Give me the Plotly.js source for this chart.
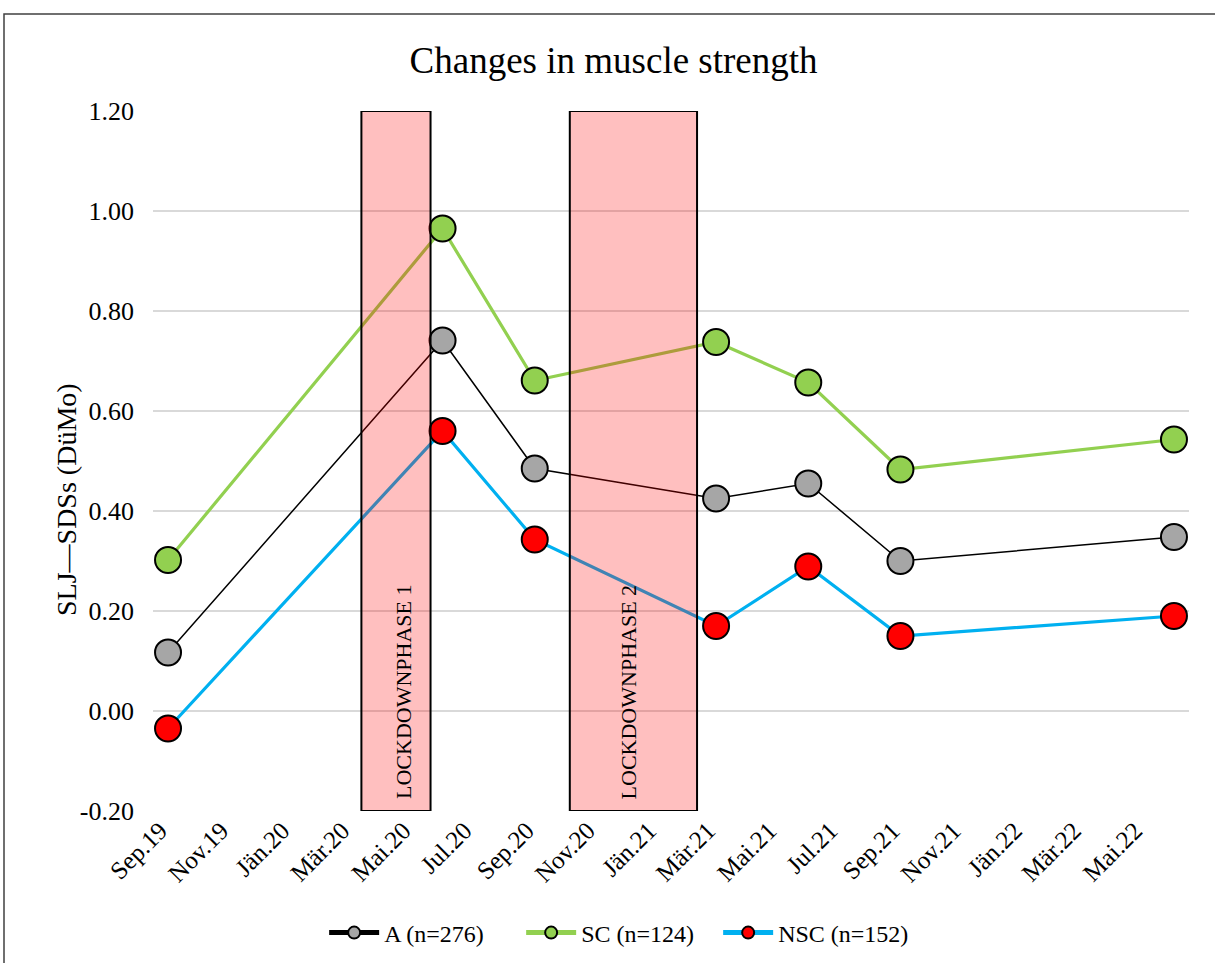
<!DOCTYPE html>
<html>
<head>
<meta charset="utf-8">
<script src="https://cdn.plot.ly/plotly-3.0.1.min.js"></script>
<style>html,body{margin:0;padding:0;background:#fff;}#chart{width:1215px;height:963px;}</style>
</head>
<body>
<div id="chart"></div>
<script>
// ---- data ----
const measureDates = ['2019-09-16','2020-06-16','2020-09-16','2021-03-16','2021-06-16','2021-09-16','2022-06-16'];
const seriesA   = [0.117, 0.741, 0.485, 0.425, 0.455, 0.300, 0.348];
const seriesSC  = [0.302, 0.965, 0.661, 0.738, 0.657, 0.483, 0.543];
const seriesNSC = [-0.035, 0.560, 0.343, 0.170, 0.289, 0.150, 0.190];
const seriesNames = ['A (n=276)', 'SC (n=124)', 'NSC (n=152)'];

const tickDates = ['2019-09-08','2019-11-08','2020-01-08','2020-03-08','2020-05-08','2020-07-08','2020-09-08','2020-11-08','2021-01-08','2021-03-08','2021-05-08','2021-07-08','2021-09-08','2021-11-08','2022-01-08','2022-03-08','2022-05-08'];
const tickLabels = ['Sep.19','Nov.19','Jän.20','Mär.20','Mai.20','Jul.20','Sep.20','Nov.20','Jän.21','Mär.21','Mai.21','Jul.21','Sep.21','Nov.21','Jän.22','Mär.22','Mai.22'];

const yTickVals = [-0.2, 0, 0.2, 0.4, 0.6, 0.8, 1.0, 1.2];
const yTickLabels = ['-0.20','0.00','0.20','0.40','0.60','0.80','1.00','1.20'];
const yTitle = 'SLJ—SDSs (DüMo)';
const chartTitle = 'Changes in muscle strength';

const lockdownStart = ['2020-03-27','2020-10-21'];
const lockdownEnd   = ['2020-06-04','2021-02-25'];
const lockdownLabelDate = ['2020-05-08','2020-12-19'];
const lockdownLabels = ['LOCKDOWNPHASE 1','LOCKDOWNPHASE 2'];

const xRange = ['2019-09-01','2022-07-01'];
const yRange = [-0.2, 1.2];

// ---- layout constants ----
const FONT = 'Liberation Serif, Times New Roman, serif';
const W = 1215, H = 963;
const M = {l:153, r:26, t:111, b:152};
const PW = W - M.l - M.r, PH = H - M.t - M.b;

const traces = [
  {x: measureDates, y: seriesA, name: seriesNames[0], type:'scatter', mode:'lines+markers',
   line:{color:'#000000', width:1.5},
   marker:{size:26, color:'#a6a6a6', line:{color:'#000000', width:2}}},
  {x: measureDates, y: seriesSC, name: seriesNames[1], type:'scatter', mode:'lines+markers',
   line:{color:'#92d050', width:3.2},
   marker:{size:26, color:'#92d050', line:{color:'#000000', width:2}}},
  {x: measureDates, y: seriesNSC, name: seriesNames[2], type:'scatter', mode:'lines+markers',
   line:{color:'#00b0f0', width:3.2},
   marker:{size:26, color:'#ff0000', line:{color:'#000000', width:2}}}
];

const shapes = lockdownStart.map((s, i) => ({
  type:'rect', xref:'x', yref:'y', x0:s, x1:lockdownEnd[i], y0:yRange[0], y1:yRange[1],
  fillcolor:'rgba(255,0,0,0.25)', line:{color:'#000000', width:2}, layer:'above'
}));
// outer chart frame
shapes.push({type:'rect', xref:'paper', yref:'paper',
  x0:(4 - M.l)/PW, x1:(W + 20 - M.l)/PW, y0:(M.t + PH - (H + 20))/PH, y1:(M.t + PH - 14)/PH,
  line:{color:'#404040', width:1.5}, fillcolor:'rgba(0,0,0,0)', layer:'above'});

const annotations = lockdownLabels.map((t, i) => ({
  text:t, x:lockdownLabelDate[i], y:yRange[0] + 0.02, xref:'x', yref:'y',
  textangle:-90, showarrow:false, xanchor:'center', yanchor:'bottom',
  font:{family:FONT, size:22, color:'#000000'}
}));
// y-axis title (placed as in the reference, slightly below plot centre)
annotations.push({text:yTitle, xref:'paper', yref:'paper', x:(66 - M.l)/PW, y:(M.t + PH - 500)/PH,
  textangle:-90, showarrow:false, xanchor:'center', yanchor:'middle',
  font:{family:FONT, size:28, color:'#000000'}});

const layout = {
  width:W, height:H,
  margin:M,
  paper_bgcolor:'#ffffff', plot_bgcolor:'#ffffff',
  font:{family:FONT, color:'#000000'},
  title:{text:chartTitle, font:{family:FONT, size:37, color:'#000000'},
         xref:'container', yref:'container', x:0.505, y:1 - 60/H, xanchor:'center', yanchor:'middle'},
  xaxis:{type:'date', range:xRange, tickmode:'array', tickvals:tickDates, ticktext:tickLabels,
         tickangle:-45, ticks:'', showgrid:false, zeroline:false, showline:false,
         tickfont:{family:FONT, size:25, color:'#000000'}, ticklabelstandoff:-1},
  xaxis2:{type:'date', range:xRange, overlaying:'x', anchor:'free',
          position:(0 - yRange[0]) / (yRange[1] - yRange[0]),
          tickmode:'linear', tick0:'2019-09-01', dtick:'M2', ticks:'outside', ticklen:6, tickwidth:1.5,
          tickcolor:'#d9d9d9', showticklabels:false, showgrid:false, zeroline:false, showline:false},
  yaxis:{range:yRange, tickmode:'array', tickvals:yTickVals, ticktext:yTickLabels,
         showgrid:true, gridcolor:'#d9d9d9', gridwidth:1.5,
         zeroline:true, zerolinecolor:'#d9d9d9', zerolinewidth:1.5, showline:false, ticks:'',
         tickfont:{family:FONT, size:26, color:'#000000'}, ticklabelstandoff:18},
  legend:{orientation:'h', xref:'container', yref:'container', x:0.51, y:1 - 933/H,
          xanchor:'center', yanchor:'middle', itemsizing:'constant', itemwidth:50,
          entrywidth:132, entrywidthmode:'pixels',
          font:{family:FONT, size:24, color:'#000000'}},
  shapes:shapes,
  annotations:annotations,
  showlegend:true
};

Plotly.newPlot('chart', traces, layout, {displayModeBar:false, staticPlot:true});
</script>
</body>
</html>
